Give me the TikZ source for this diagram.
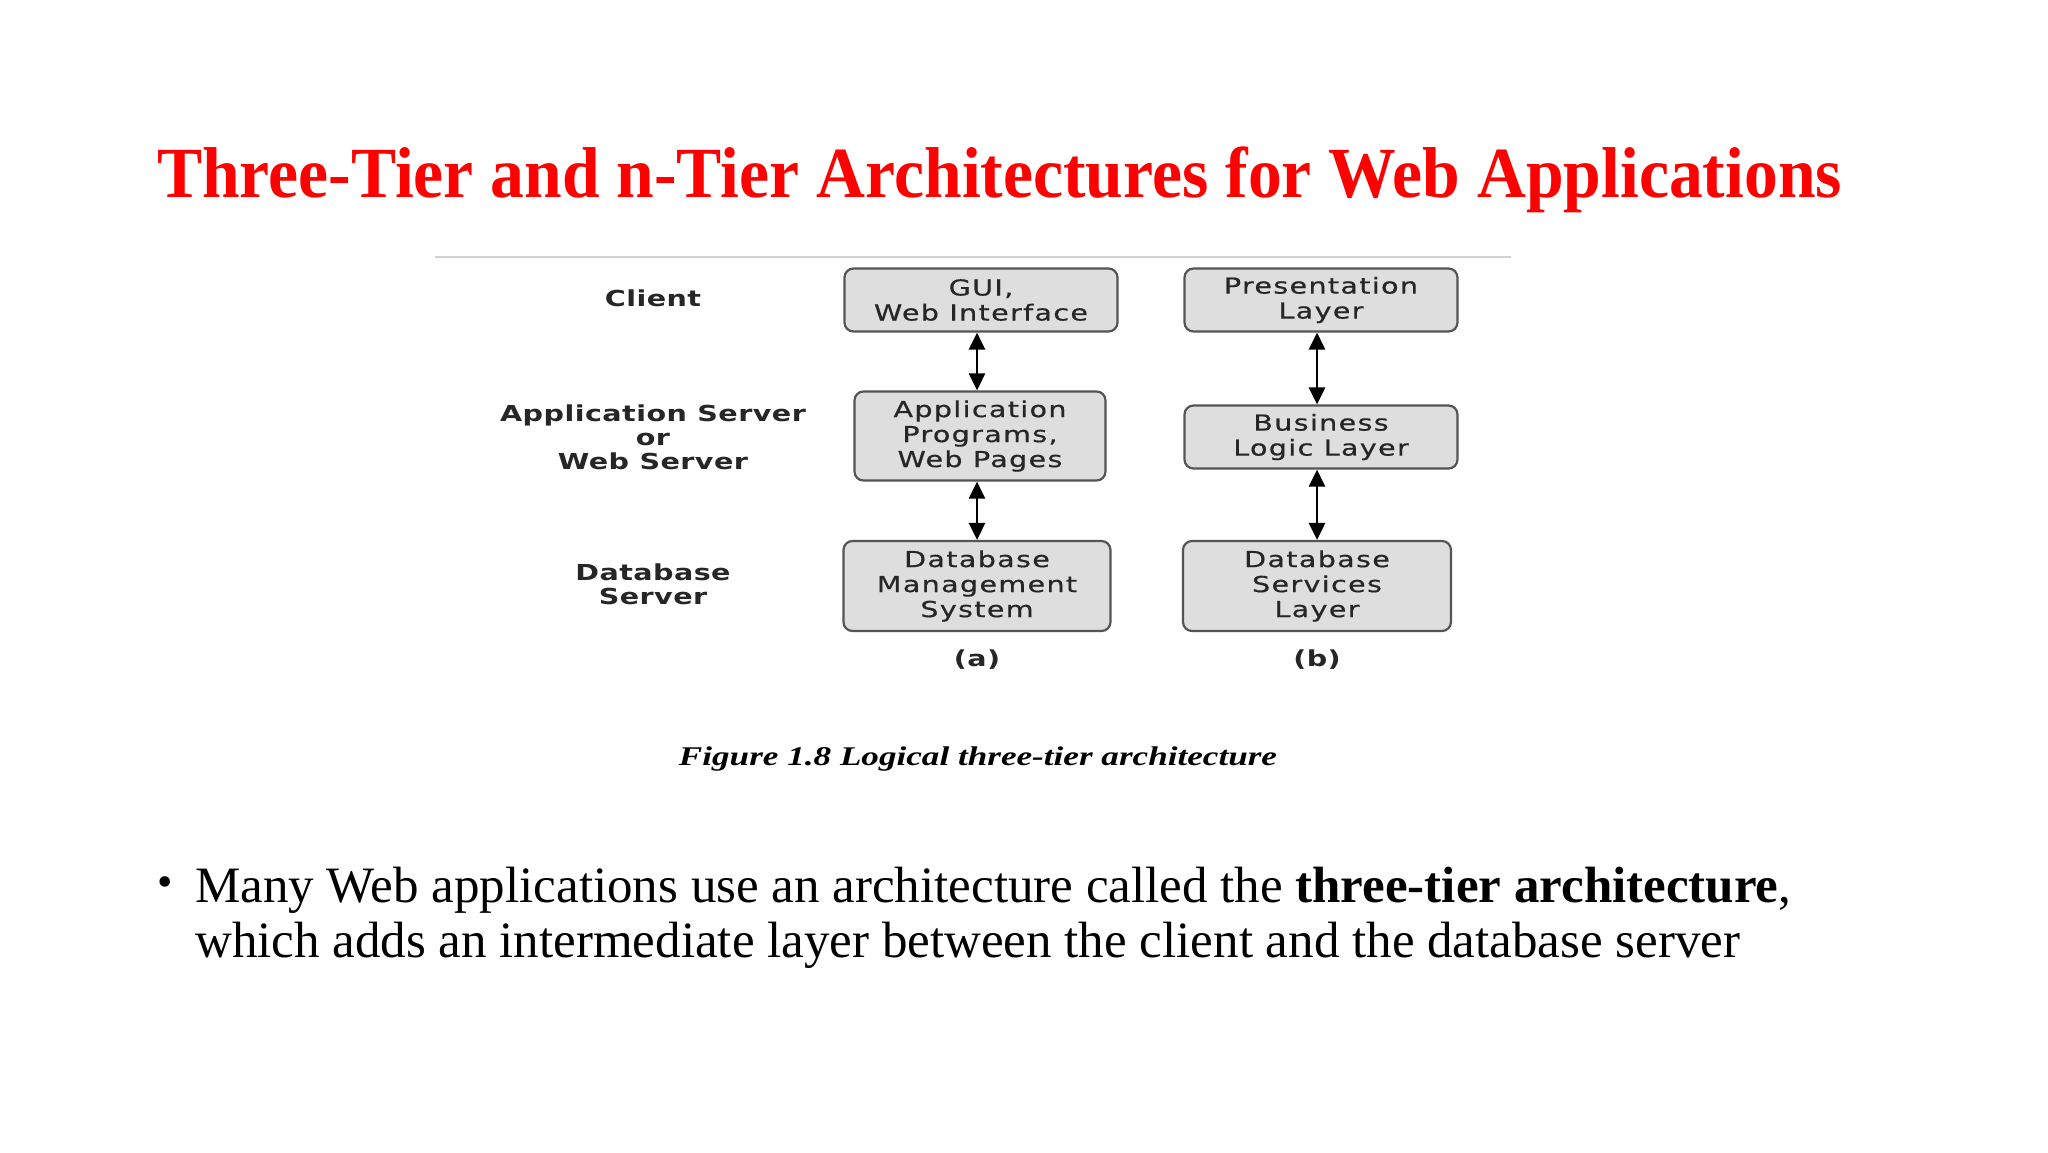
\documentclass[tikz,border=0pt]{standalone}
\usepackage{fontspec}
\usepackage{graphicx}
\setmainfont{Liberation Serif}
\newfontfamily\boxfont[FakeStretch=1.3,LetterSpace=6,FakeBold=0.6]{DejaVu Sans}
\newfontfamily\labelfont[FakeStretch=1.3,LetterSpace=2]{DejaVu Sans}
\usetikzlibrary{arrows.meta}
\definecolor{boxfill}{HTML}{DEDEDE}
\definecolor{boxline}{HTML}{555555}
\definecolor{titlered}{HTML}{FF0000}
\tikzset{
  tierbox/.style={draw=boxline, fill=boxfill, line width=2.2pt, rounded corners=9pt,
    align=center, inner sep=0pt, font=\boxfont\fontsize{22}{25}\selectfont, text=black!85},
  sidelabel/.style={align=center, font=\labelfont\bfseries\fontsize{22}{24}\selectfont, text=black!85},
  sublabel/.style={font=\labelfont\bfseries\fontsize{22}{24}\selectfont, text=black!85},
  dblarrow/.style={line width=2.8pt, {Triangle[length=17pt,width=16pt]}-{Triangle[length=17pt,width=16pt]}},
  bodytext/.style={anchor=base west, inner sep=0pt, font=\fontsize{51}{55}\selectfont}
}
\begin{document}
\begin{tikzpicture}[x=1pt,y=-1pt]
\useasboundingbox[fill=white] (0,0) rectangle (2048,1152);
% title
\node[anchor=base, inner sep=0pt, text=titlered, font=\bfseries\fontsize{72}{80}\selectfont] (title) at (999.5,197)
  {\resizebox{1685pt}{\height}{Three-Tier and n-Tier Architectures for Web Applications}};
% rule
\draw[black!18, line width=1.5pt] (435,257) -- (1511,257);
% side labels
\node[sidelabel] (lclient) at (653,298) {Client};
\node[sidelabel] (lapp) at (653,437) {Application Server\\or\\Web Server};
\node[sidelabel] (ldb) at (653,584) {Database\\Server};
% column (a)
\node[tierbox, minimum width=273pt, minimum height=63pt] (gui) at (981,300) {GUI,\\Web Interface};
\node[tierbox, minimum width=251pt, minimum height=89pt] (app) at (980,436) {Application\\Programs,\\Web Pages};
\node[tierbox, minimum width=267pt, minimum height=90pt] (dbms) at (977,586) {Database\\Management\\System};
\node[sublabel] (la) at (977,660) {(a)};
% column (b)
\node[tierbox, minimum width=273pt, minimum height=63pt] (pres) at (1321,300) {Presentation\\Layer};
\node[tierbox, minimum width=273pt, minimum height=63pt] (bll) at (1321,437) {Business\\Logic Layer};
\node[tierbox, minimum width=268pt, minimum height=90pt] (dsl) at (1317,586) {Database\\Services\\Layer};
\node[sublabel] (lb) at (1317,660) {(b)};
% arrows
\draw[dblarrow] (gui.south -| dbms.center) -- (app.north -| dbms.center);
\draw[dblarrow] (app.south -| dbms.center) -- (dbms.north);
\draw[dblarrow] (pres.south -| dsl.center) -- (bll.north -| dsl.center);
\draw[dblarrow] (bll.south -| dsl.center) -- (dsl.north);
% caption
\node[anchor=base, inner sep=0pt, font=\bfseries\itshape\fontsize{27}{30}\selectfont] (caption) at (978,765)
  {\resizebox{598pt}{\height}{Figure 1.8 Logical three-tier architecture}};
% bullet text
\node[anchor=base, inner sep=0pt, font=\fontsize{44}{44}\selectfont] (bullet) at (165,896) {\textbullet};
\node[bodytext] (line1) at (195,902) {Many Web applications use an architecture called the \textbf{three-tier architecture},};
\node[bodytext] (line2) at (195,957) {which adds an intermediate layer between the client and the database server};
\end{tikzpicture}
\end{document}
